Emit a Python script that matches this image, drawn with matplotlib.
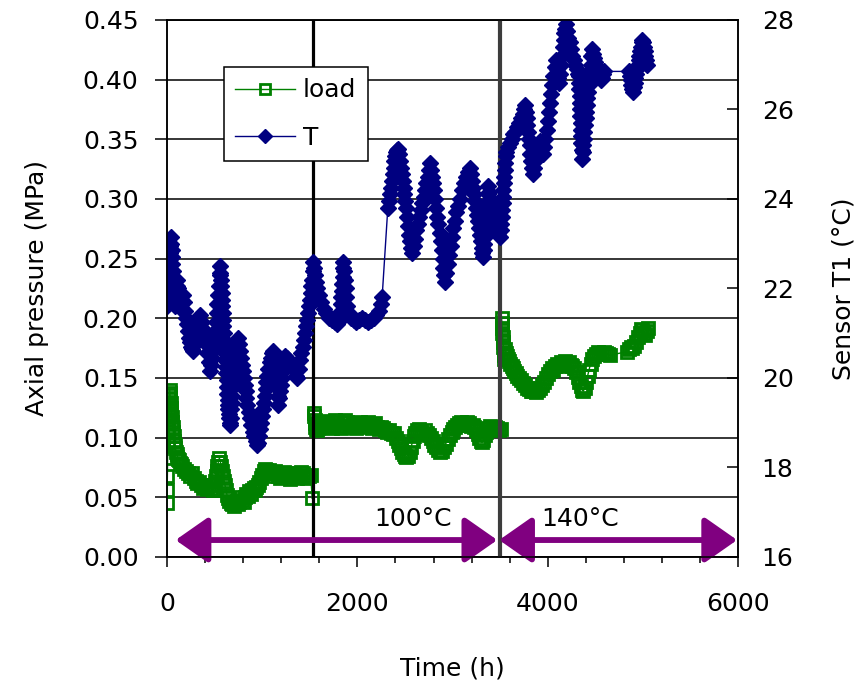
import matplotlib
matplotlib.use('Agg')
import matplotlib.pyplot as plt
from matplotlib.ticker import MultipleLocator, FormatStrFormatter

# axial load (MPa) against time (h)
load_t = [0, 2, 4, 6, 8, 10, 12, 14, 16, 18, 20, 22, 24, 26,
          30, 34, 38, 42, 46, 50, 55, 60, 65, 70, 76, 82, 88, 95, 102, 110, 118, 126, 135, 145,
          160, 180, 200, 220, 240, 260, 280, 300, 320, 340, 360, 380, 400, 420, 440, 460, 480,
          490, 500, 510, 520, 530, 540, 550, 560, 570, 580, 590, 600, 610, 620, 630, 640,
          655, 670, 685, 700, 715, 730, 745, 760, 775, 790, 805, 820, 835, 850, 865, 880, 895, 910, 925, 940, 955,
          970, 985, 1000, 1015, 1030, 1045, 1060, 1075, 1090, 1105, 1120, 1135, 1150,
          1170, 1190, 1210, 1230, 1250, 1270, 1290, 1310, 1330, 1350, 1370, 1390, 1410, 1430, 1450, 1470, 1490, 1510,
          1525,
          1540, 1545, 1550, 1555, 1560, 1568, 1576, 1585, 1595,
          1610, 1630, 1650, 1670, 1690, 1710, 1730, 1750, 1770, 1790,
          1810, 1830, 1850, 1870, 1890, 1910, 1930, 1950, 1970, 1990,
          2010, 2030, 2050, 2070, 2090, 2110, 2130, 2150, 2170, 2190,
          2210, 2230, 2250, 2270, 2290, 2310, 2330, 2350, 2370, 2390,
          2410, 2425, 2440, 2455, 2470, 2485, 2500, 2515, 2533, 2550, 2565, 2580, 2595,
          2610, 2630, 2650, 2670, 2690, 2710, 2730, 2750, 2770, 2790, 2810, 2830,
          2850, 2869, 2890, 2910, 2930, 2950, 2970, 2990, 3010,
          3030, 3050, 3070, 3090, 3110, 3130, 3150, 3170, 3190, 3210, 3230, 3250,
          3265, 3280, 3295, 3310, 3325, 3340, 3355,
          3370, 3390, 3410, 3430, 3450, 3470, 3490, 3505,
          3515, 3518, 3521, 3524, 3527, 3530, 3533, 3536, 3540, 3545,
          3555, 3565, 3575, 3585, 3595, 3605, 3620, 3635, 3650, 3665, 3680, 3700,
          3720, 3740, 3760, 3780, 3800, 3820, 3840, 3860, 3880, 3900, 3920, 3940,
          3960, 3980, 4000, 4020, 4040, 4060, 4080, 4100, 4120, 4140, 4160, 4180, 4200, 4220, 4240, 4260, 4280,
          4300, 4315, 4330, 4345, 4360, 4375, 4390, 4405, 4420, 4435,
          4450, 4470, 4490, 4510, 4530, 4550, 4570, 4590, 4610, 4630, 4650,
          4830, 4850, 4870, 4890, 4910, 4930, 4950, 4965, 4980, 4995, 5010, 5025, 5040, 5055]
load_mpa = [0.045, 0.056, 0.068, 0.083, 0.096, 0.108, 0.112, 0.116, 0.12, 0.124, 0.128, 0.132, 0.136, 0.14,
            0.137, 0.133, 0.129, 0.125, 0.121, 0.117, 0.113, 0.109, 0.105, 0.101, 0.097, 0.094, 0.091, 0.088, 0.086, 0.084, 0.082, 0.081, 0.079, 0.078,
            0.076, 0.074, 0.072, 0.07, 0.068, 0.07, 0.066, 0.064, 0.062, 0.063, 0.06, 0.058, 0.059, 0.057, 0.06, 0.058, 0.056,
            0.06, 0.064, 0.068, 0.072, 0.076, 0.08, 0.083, 0.08, 0.076, 0.072, 0.068, 0.064, 0.06, 0.056, 0.052, 0.049,
            0.047, 0.045, 0.044, 0.043, 0.045, 0.047, 0.044, 0.046, 0.05, 0.048, 0.046, 0.05, 0.053, 0.051, 0.055, 0.053, 0.056, 0.058, 0.056, 0.059, 0.06,
            0.063, 0.066, 0.069, 0.072, 0.074, 0.073, 0.071, 0.073, 0.07, 0.068, 0.07, 0.072, 0.07,
            0.068, 0.066, 0.069, 0.071, 0.07, 0.067, 0.065, 0.068, 0.07, 0.069, 0.066, 0.068, 0.071, 0.07, 0.067, 0.066, 0.068, 0.069,
            0.049,
            0.121, 0.118, 0.115, 0.112, 0.109, 0.107, 0.106, 0.108, 0.111,
            0.113, 0.111, 0.109, 0.112, 0.114, 0.11, 0.108, 0.111, 0.115, 0.113,
            0.11, 0.108, 0.112, 0.115, 0.113, 0.11, 0.109, 0.112, 0.11, 0.108,
            0.111, 0.113, 0.111, 0.109, 0.112, 0.113, 0.11, 0.108, 0.111, 0.112,
            0.109, 0.107, 0.109, 0.108, 0.106, 0.105, 0.106, 0.104, 0.103, 0.104,
            0.1, 0.097, 0.094, 0.091, 0.088, 0.086, 0.085, 0.084, 0.085, 0.088, 0.092, 0.097, 0.101,
            0.104, 0.106, 0.107, 0.105, 0.103, 0.106, 0.104, 0.102, 0.1, 0.097, 0.094, 0.092,
            0.09, 0.088, 0.089, 0.092, 0.095, 0.099, 0.102, 0.105, 0.107,
            0.109, 0.111, 0.112, 0.113, 0.112, 0.111, 0.113, 0.112, 0.11, 0.111, 0.109, 0.106,
            0.103, 0.1, 0.097, 0.096, 0.098, 0.102, 0.105,
            0.108, 0.11, 0.109, 0.107, 0.109, 0.108, 0.106, 0.107,
            0.2, 0.196, 0.192, 0.188, 0.184, 0.18, 0.176, 0.172, 0.169, 0.166,
            0.174, 0.171, 0.168, 0.166, 0.164, 0.162, 0.16, 0.158, 0.156, 0.154, 0.152, 0.15,
            0.148, 0.146, 0.144, 0.142, 0.141, 0.139, 0.139, 0.14, 0.138, 0.14, 0.142, 0.144,
            0.147, 0.15, 0.153, 0.156, 0.158, 0.157, 0.16, 0.162, 0.16, 0.163, 0.162, 0.164, 0.162, 0.163, 0.161, 0.16, 0.158,
            0.155, 0.151, 0.147, 0.143, 0.14, 0.139, 0.142, 0.147, 0.152, 0.157,
            0.162, 0.166, 0.168, 0.17, 0.172, 0.171, 0.17, 0.172, 0.171, 0.17, 0.169,
            0.172, 0.174, 0.176, 0.175, 0.177, 0.18, 0.184, 0.188, 0.191, 0.19, 0.188, 0.186, 0.189, 0.192]

# sensor T1 temperature (degC) against time (h)
temp_t = [0, 4, 8, 12, 16, 20, 24, 28, 32, 36, 40, 44, 48, 52, 56, 60, 64, 68, 72, 76, 80, 88, 96, 104, 110,
          120, 130, 140, 150, 160, 170, 180, 190, 200, 210, 220, 230, 240, 250, 262, 275,
          290, 305, 320, 335, 350, 365, 380, 395, 410, 425, 440, 455,
          465, 473, 481, 489, 497, 505, 513, 521, 529, 537, 545, 552, 557,
          561, 565, 569, 573, 577, 581, 585, 589, 593, 597, 601, 605, 609, 613, 617, 621, 625, 629, 633, 637,
          641, 645, 649, 653, 657, 662,
          668, 674, 680, 686, 692, 698, 704, 710, 718, 726, 735, 745,
          755, 765, 775, 785, 795, 805, 815, 825, 835, 845, 857, 870, 885, 900, 915, 930, 945, 955,
          965, 975, 985, 995, 1005, 1015, 1025, 1035, 1045, 1055, 1065, 1078, 1090, 1102, 1114,
          1122, 1130, 1138, 1146, 1154, 1162, 1170, 1180, 1190, 1200, 1210, 1220, 1230, 1240,
          1260, 1280, 1300, 1320, 1340, 1355, 1370, 1385, 1400, 1412, 1424, 1436, 1448, 1460, 1470, 1480,
          1490, 1500, 1508, 1516, 1524, 1530, 1535,
          1545, 1555, 1565, 1580, 1600, 1620, 1645, 1670, 1700, 1730, 1760, 1790, 1815, 1820, 1825, 1829,
          1833, 1837, 1841, 1845, 1849, 1852,
          1860, 1868, 1876, 1885, 1895, 1910, 1930, 1960, 1990, 2020, 2050, 2080, 2110, 2140, 2170, 2200,
          2225, 2245, 2260,
          2320, 2330, 2340, 2350, 2360, 2370, 2380, 2390, 2400, 2410, 2420, 2427, 2435, 2445, 2455, 2465,
          2475, 2485, 2495, 2505, 2515,
          2525, 2535, 2545, 2555, 2565, 2574, 2590, 2605, 2620, 2635, 2650, 2665, 2680, 2695, 2710, 2725,
          2740, 2752, 2764,
          2775, 2786, 2797, 2808, 2819, 2830, 2841, 2852, 2863, 2874, 2885, 2896, 2905, 2913, 2921,
          2935, 2950, 2965, 2980, 2995, 3010, 3025, 3040, 3060, 3080, 3100, 3120, 3140, 3160, 3184,
          3195, 3205, 3215, 3225, 3235, 3245, 3255, 3265, 3275, 3285, 3295, 3305, 3313, 3320,
          3326, 3332, 3338, 3344, 3350, 3356, 3362, 3367, 3371, 3375,
          3385, 3397, 3410, 3423, 3436, 3450, 3465, 3480, 3499,
          3505, 3510, 3515, 3520, 3525, 3530, 3535, 3540, 3545, 3550, 3555, 3560, 3566,
          3580, 3600, 3620, 3640, 3660, 3680, 3700, 3720, 3740, 3752, 3762,
          3770, 3778, 3786, 3794, 3802, 3810, 3818, 3826, 3834, 3846, 3858, 3870, 3882, 3895, 3908, 3920,
          3935, 3950,
          3962, 3975, 3988, 4000, 4012, 4024, 4036, 4048, 4060, 4072, 4084, 4096, 4108, 4120, 4130, 4140,
          4150, 4160, 4168, 4176, 4184, 4193,
          4205, 4218, 4231, 4245, 4260, 4275, 4290, 4305, 4320, 4330,
          4332, 4334, 4336, 4338, 4340, 4342, 4345, 4348, 4351, 4354, 4357, 4361,
          4368, 4374, 4380, 4386, 4392, 4398, 4404, 4410, 4417, 4424, 4431, 4438, 4445, 4452, 4459, 4466,
          4478, 4490, 4502, 4514, 4526, 4538, 4550, 4562, 4574, 4585, 4595,
          4850, 4860, 4870, 4880, 4890, 4898,
          4906, 4914, 4922, 4930, 4938, 4946, 4954, 4962, 4970, 4978, 4986, 4994, 5002, 5010, 5018, 5026,
          5034, 5042]
temp_c = [21.6, 21.75, 21.9, 22.05, 22.2, 22.35, 22.5, 22.65, 22.8, 22.95, 23.15, 23.0, 22.85, 22.7, 22.55,
          22.4, 22.25, 22.1, 21.95, 21.8, 21.6, 21.75, 21.9, 22.05, 22.2,
          22.0, 21.85, 21.7, 21.55, 21.7, 21.85, 21.7, 21.5, 21.35, 21.2, 21.05, 20.9, 20.8, 20.7, 20.65, 20.6,
          20.75, 20.9, 21.1, 21.3, 21.4, 21.25, 21.1, 20.95, 20.75, 20.55, 20.35, 20.15,
          20.3, 20.45, 20.6, 20.75, 20.9, 21.05, 21.25, 21.45, 21.65, 21.85, 22.05, 22.3, 22.5,
          22.35, 22.2, 22.05, 21.9, 21.75, 21.6, 21.45, 21.3, 21.15, 21.0, 20.85, 20.7, 20.55, 20.4, 20.25,
          20.1, 19.95, 19.8, 19.65, 19.5, 19.4, 19.3, 19.2, 19.1, 19.0, 18.95,
          19.1, 19.3, 19.45, 19.6, 19.8, 19.95, 20.1, 20.3, 20.45, 20.6, 20.75, 20.9,
          20.75, 20.6, 20.45, 20.3, 20.15, 20.0, 19.85, 19.7, 19.55, 19.4, 19.25, 19.1, 18.95, 18.8, 18.7,
          18.6, 18.5, 18.55,
          18.7, 18.85, 19.0, 19.15, 19.3, 19.45, 19.6, 19.75, 19.9, 20.05, 20.2, 20.35, 20.45, 20.55, 20.6,
          20.45, 20.3, 20.15, 20.0, 19.8, 19.6, 19.4, 19.55, 19.7, 19.85, 20.0, 20.15, 20.3, 20.5,
          20.45, 20.35, 20.3, 20.25, 20.15, 20.05, 20.0, 20.2, 20.4, 20.55, 20.7, 20.85, 21.0, 21.15, 21.3,
          21.45, 21.6, 21.75, 21.9, 22.05, 22.2, 22.4, 22.6,
          22.45, 22.3, 22.15, 22.0, 21.85, 21.7, 21.55, 21.45, 21.35, 21.3, 21.25, 21.2, 21.3, 21.35, 21.5,
          21.65, 21.8, 21.95, 22.1, 22.25, 22.45, 22.6,
          22.4, 22.2, 22.0, 21.8, 21.6, 21.45, 21.35, 21.3, 21.25, 21.3, 21.35, 21.3, 21.25, 21.3, 21.35, 21.4,
          21.5, 21.65, 21.8,
          23.8, 23.95, 24.1, 24.25, 24.4, 24.55, 24.7, 24.85, 24.95, 25.05, 25.1, 25.12, 25.0, 24.85, 24.7,
          24.55, 24.4, 24.25, 24.1, 23.95, 23.8,
          23.6, 23.4, 23.2, 23.05, 22.9, 22.8, 22.95, 23.1, 23.3, 23.45, 23.6, 23.75, 23.9, 24.05, 24.2, 24.35,
          24.5, 24.65, 24.8,
          24.65, 24.5, 24.35, 24.2, 24.0, 23.8, 23.6, 23.45, 23.25, 23.05, 22.85, 22.65, 22.45, 22.3, 22.15,
          22.35, 22.55, 22.75, 22.95, 23.15, 23.35, 23.5, 23.7, 23.85, 24.0, 24.2, 24.35, 24.5, 24.6, 24.7,
          24.55, 24.4, 24.25, 24.1, 23.95, 23.8, 23.65, 23.5, 23.35, 23.2, 23.05, 22.9, 22.8, 22.7,
          22.85, 23.0, 23.15, 23.3, 23.45, 23.6, 23.75, 23.9, 24.1, 24.3,
          24.15, 24.0, 23.85, 23.7, 23.55, 23.45, 23.35, 23.25, 23.15,
          23.3, 23.45, 23.6, 23.75, 23.9, 24.05, 24.2, 24.35, 24.5, 24.65, 24.8, 24.95, 25.05,
          25.15, 25.25, 25.35, 25.45, 25.5, 25.6, 25.7, 25.8, 25.9, 26.0, 26.1,
          25.95, 25.8, 25.65, 25.5, 25.35, 25.2, 25.0, 24.85, 24.7, 24.55, 24.7, 24.85, 25.0, 25.15, 25.25, 25.3,
          25.15, 25.0,
          25.15, 25.35, 25.55, 25.75, 25.95, 26.15, 26.35, 26.55, 26.75, 26.95, 27.1, 26.9, 26.7, 26.6, 26.8, 27.0,
          27.2, 27.4, 27.55, 27.7, 27.8, 27.9,
          27.75, 27.6, 27.5, 27.35, 27.2, 27.1, 27.0, 26.9, 26.8, 26.75,
          26.6, 26.45, 26.3, 26.15, 26.0, 25.85, 25.7, 25.55, 25.4, 25.25, 25.1, 24.9,
          25.05, 25.2, 25.35, 25.5, 25.65, 25.8, 25.95, 26.1, 26.25, 26.4, 26.55, 26.7, 26.85, 27.0, 27.2, 27.35,
          27.25, 27.15, 27.05, 26.95, 26.85, 26.75, 26.7, 26.65, 26.7, 26.8, 26.85,
          26.85, 26.75, 26.65, 26.55, 26.45, 26.4,
          26.5, 26.6, 26.7, 26.8, 26.9, 27.0, 27.1, 27.2, 27.3, 27.4, 27.5, 27.55, 27.5, 27.4, 27.3, 27.2,
          27.1, 27.0]

# test stages: heater switch times and the span each arrow covers
stage_switch = [1530, 3500]
stage_spans = [(90, 3470), (3490, 5990)]
stage_labels = ['100°C', '140°C']
stage_label_x = [2585, 4340]

plt.rcParams['font.family'] = 'DejaVu Sans'
plt.rcParams['font.size'] = 18

fig = plt.figure(figsize=(8.57, 6.95), dpi=100)
ax = fig.add_axes([0.1949, 0.1986, 0.6663, 0.7727])
ax2 = ax.twinx()

ax.set_zorder(1)
ax2.set_zorder(2)
ax.patch.set_visible(True)
ax2.patch.set_visible(False)

# pressure on the left axis
l1, = ax.plot(load_t, load_mpa, color='#008000', lw=1, marker='s', ms=8.5, mfc='none',
              mec='#008000', mew=2, label='load', zorder=3)
for xs, c, w in zip(stage_switch, ['black', '#3c3c3c'], [2.3, 3.0]):
    ax.axvline(xs, color=c, lw=w, zorder=4)

ax.set_xlim(0, 6000)
ax.set_ylim(0, 0.45)
ax.xaxis.set_major_locator(MultipleLocator(2000))
ax.xaxis.set_minor_locator(MultipleLocator(400))
ax.yaxis.set_major_locator(MultipleLocator(0.05))
ax.yaxis.set_major_formatter(FormatStrFormatter('%.2f'))
ax.yaxis.grid(True, color='black', lw=1.1, zorder=0)
ax.set_axisbelow(True)
ax.tick_params(axis='x', which='major', direction='out', length=7.5, width=1.1, pad=18)
ax.tick_params(axis='x', which='minor', direction='out', length=4, width=1.1)
ax.tick_params(axis='y', direction='out', length=8.5, width=1.1, pad=12)
ax.set_xlabel('Time (h)', labelpad=29)
ax.set_ylabel('Axial pressure (MPa)', labelpad=24)
for s in ax.spines.values():
    s.set_linewidth(1.1)

# stage arrows and temperature labels
for (a, b), txt, tx in zip(stage_spans, stage_labels, stage_label_x):
    ax.annotate('', xy=(a, 0.0142), xytext=(b, 0.0142),
                arrowprops=dict(arrowstyle='<|-|>,head_length=1.0,head_width=0.7',
                                color='#800080', lw=4.2, shrinkA=0, shrinkB=0,
                                mutation_scale=20),
                zorder=5)
    ax.text(tx, 0.032, txt, ha='center', va='center', zorder=5)

# temperature on the right axis
l2, = ax2.plot(temp_t, temp_c, color='#000080', lw=1, marker='D', ms=8.5,
               mfc='#000080', mec='#000080', mew=1, label='T')
ax2.set_ylim(16, 28)
ax2.yaxis.set_major_locator(MultipleLocator(2))
ax2.tick_params(axis='y', direction='in', length=8, width=1.1, pad=17)
ax2.set_ylabel('Sensor T1 (°C)', labelpad=27)
for s in ax2.spines.values():
    s.set_linewidth(1.1)

leg = ax2.legend(handles=[l1, l2], loc='upper left', bbox_to_anchor=(0.1, 0.912),
                 borderaxespad=0, frameon=True, fancybox=False, edgecolor='black',
                 framealpha=1, handlelength=2.4, handletextpad=0.3, labelspacing=0.95,
                 borderpad=0.45, fontsize=18, markerscale=0.8)
leg.get_frame().set_linewidth(1.1)

fig.savefig('out.png', dpi=100)
